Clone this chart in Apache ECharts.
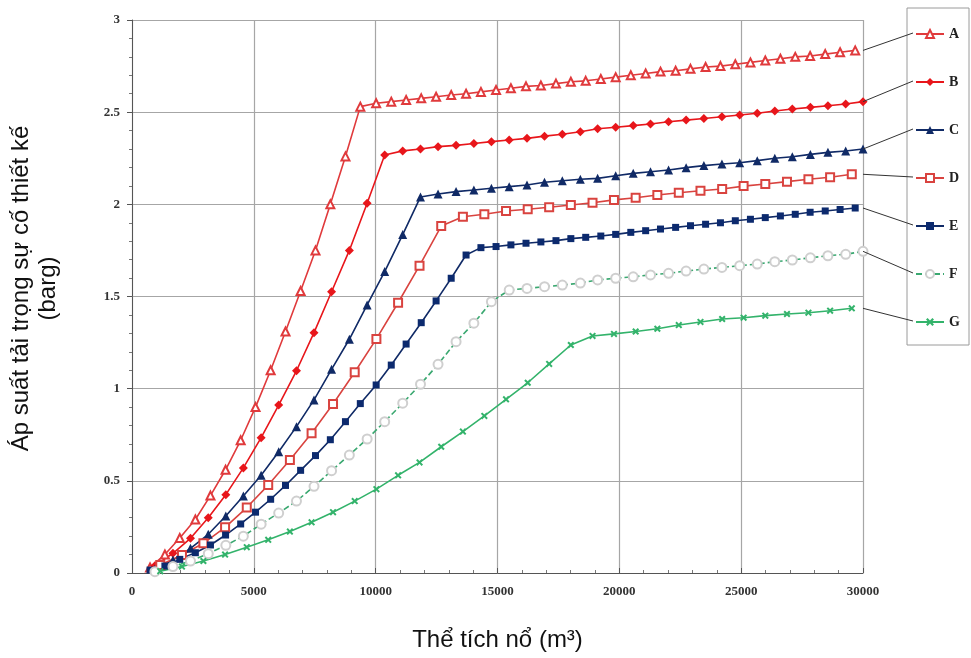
<!DOCTYPE html>
<html><head><meta charset="utf-8">
<script src="https://cdn.jsdelivr.net/npm/echarts@6/dist/echarts.min.js"></script>
<style>html,body{margin:0;padding:0;background:#fff}#c{width:971px;height:658px}</style>
</head><body><div id="c"></div>
<script>
// ---- data ----
const seriesNames = ['A', 'B', 'C', 'D', 'E', 'F', 'G'];

// x values shared by A and E
const xAE = [740, 1350, 1960, 2600, 3220, 3840, 4460, 5070, 5690, 6300, 6920, 7530, 8140, 8760, 9370,
  10020, 10640, 11250, 11870, 12480, 13100, 13710, 14320, 14940, 15550, 16170, 16780, 17400, 18010,
  18620, 19240, 19850, 20470, 21080, 21690, 22310, 22920, 23540, 24150, 24760, 25380, 25990, 26610,
  27220, 27830, 28450, 29060, 29680];
const yA = [0.03, 0.10, 0.19, 0.29, 0.42, 0.56, 0.72, 0.90, 1.10, 1.31, 1.53, 1.75, 2.00, 2.26, 2.53,
  2.548, 2.557, 2.566, 2.575, 2.584, 2.593, 2.60, 2.61, 2.62, 2.63, 2.64, 2.645, 2.655, 2.665, 2.67,
  2.68, 2.69, 2.70, 2.71, 2.72, 2.725, 2.735, 2.745, 2.75, 2.76, 2.77, 2.78, 2.79, 2.80, 2.805, 2.815,
  2.825, 2.835];
const yE = [0.016, 0.038, 0.074, 0.11, 0.152, 0.206, 0.266, 0.33, 0.40, 0.475, 0.557, 0.637, 0.723,
  0.821, 0.919, 1.02, 1.128, 1.242, 1.358, 1.476, 1.599, 1.725,
  1.765, 1.771, 1.78, 1.789, 1.796, 1.803, 1.814, 1.821, 1.828, 1.837, 1.848, 1.857, 1.866, 1.875,
  1.884, 1.892, 1.90, 1.911, 1.919, 1.928, 1.937, 1.946, 1.957, 1.964, 1.972, 1.98];

// x values shared by B, C and F
const xBCF = [940, 1680, 2400, 3130, 3850, 4570, 5300, 6020, 6750, 7470, 8190, 8920, 9650, 10370,
  11110, 11840, 12560, 13300, 14030, 14750, 15480, 16210, 16930, 17660, 18400, 19110, 19850, 20570,
  21280, 22020, 22740, 23470, 24210, 24940, 25660, 26380, 27100, 27840, 28560, 29290, 30000];
const yB = [0.04, 0.107, 0.188, 0.30, 0.425, 0.57, 0.734, 0.911, 1.097, 1.304, 1.526, 1.75, 2.006, 2.268,
  2.29, 2.30, 2.313, 2.32, 2.33, 2.34, 2.349, 2.358, 2.37, 2.38, 2.394, 2.41, 2.418, 2.427, 2.436,
  2.448, 2.457, 2.466, 2.475, 2.485, 2.494, 2.506, 2.517, 2.526, 2.535, 2.544, 2.557];
const yC = [0.02, 0.07, 0.134, 0.21, 0.309, 0.418, 0.53, 0.658, 0.794, 0.939, 1.105, 1.268, 1.454, 1.635,
  1.836, 2.04, 2.056, 2.069, 2.078, 2.087, 2.096, 2.105, 2.12, 2.128, 2.136, 2.141, 2.155, 2.168,
  2.177, 2.186, 2.199, 2.21, 2.219, 2.226, 2.237, 2.25, 2.258, 2.271, 2.282, 2.289, 2.30];
const yF = [0.007, 0.035, 0.065, 0.105, 0.15, 0.20, 0.265, 0.325, 0.39, 0.47, 0.555, 0.64, 0.727, 0.821,
  0.921, 1.024, 1.132, 1.255, 1.355, 1.472, 1.535, 1.544, 1.553, 1.562, 1.573, 1.59, 1.599, 1.607,
  1.617, 1.626, 1.638, 1.649, 1.658, 1.667, 1.676, 1.689, 1.698, 1.71, 1.721, 1.729, 1.745];

// x values shared by D and G
const xDG = [1160, 2050, 2930, 3820, 4710, 5590, 6480, 7370, 8250, 9140, 10030, 10920, 11800, 12690,
  13580, 14460, 15350, 16240, 17120, 18010, 18900, 19780, 20670, 21560, 22440, 23330, 24220, 25100,
  25990, 26880, 27760, 28650, 29540];
const yD = [0.043, 0.098, 0.161, 0.248, 0.355, 0.477, 0.613, 0.758, 0.917, 1.089, 1.27, 1.466, 1.667,
  1.882, 1.933, 1.946, 1.964, 1.973, 1.984, 1.996, 2.009, 2.024, 2.036, 2.051, 2.063, 2.074, 2.083,
  2.099, 2.11, 2.123, 2.136, 2.147, 2.163];
const yG = [0.01, 0.035, 0.065, 0.10, 0.14, 0.18, 0.225, 0.275, 0.33, 0.39, 0.455, 0.53, 0.60, 0.685,
  0.767, 0.852, 0.942, 1.032, 1.134, 1.237, 1.286, 1.297, 1.31, 1.325, 1.345, 1.362, 1.378, 1.385,
  1.396, 1.405, 1.412, 1.423, 1.436];

const xTicks = [0, 5000, 10000, 15000, 20000, 25000, 30000];
const yTicks = [0, 0.5, 1, 1.5, 2, 2.5, 3];

const xTitle = 'Thể tích nổ (m³)';
const yTitle = 'Áp suất tải trọng sự cố thiết kế\n(barg)';

// ---- chart ----
const zip = (xs, ys) => xs.map((x, i) => [x, ys[i]]);
const X_ICON = 'path://M2,0 L5,3 L8,0 L10,2 L7,5 L10,8 L8,10 L5,7 L2,10 L0,8 L3,5 L0,2 Z';

const styles = {
  A: { line: '#e03a3c', color: '#e03a3c', symbol: 'emptyTriangle', size: 8, type: 'solid' },
  B: { line: '#e8161b', color: '#e8161b', symbol: 'diamond', size: 9, type: 'solid' },
  C: { line: '#102a66', color: '#102a66', symbol: 'triangle', size: 9, type: 'solid' },
  D: { line: '#d9433f', color: '#d9433f', symbol: 'emptyRect', size: 8, type: 'solid' },
  E: { line: '#102a66', color: '#0c2a6e', symbol: 'rect', size: 7, type: 'solid' },
  F: { line: '#3aa870', color: '#cfcfcf', symbol: 'emptyCircle', size: 9, type: [6, 3] },
  G: { line: '#33b36b', color: '#33b36b', symbol: X_ICON, size: 7, type: 'solid' }
};
const dataMap = {
  A: zip(xAE, yA), B: zip(xBCF, yB), C: zip(xBCF, yC), D: zip(xDG, yD),
  E: zip(xAE, yE), F: zip(xBCF, yF), G: zip(xDG, yG)
};

const chart = echarts.init(document.getElementById('c'), null, { renderer: 'canvas' });

const tickFont = { fontFamily: 'Liberation Serif', fontWeight: 'bold', fontSize: 13, color: '#333' };
const nameFont = { fontFamily: 'Liberation Sans', fontSize: 24, color: '#111' };

// legend layout: each entry occupies ~14px of text height, spaced 48px apart
const LEG_LEFT = 915, LEG_TOP = 27, LEG_ICON_H = 10, LEG_ROW_H = 14, LEG_GAP = 34;

chart.setOption({
  animation: false,
  backgroundColor: '#fff',
  grid: { left: 130, right: 108, top: 20, bottom: 85 },
  xAxis: {
    type: 'value', min: xTicks[0], max: xTicks[xTicks.length - 1], interval: xTicks[1] - xTicks[0],
    axisLine: { lineStyle: { color: '#555', width: 1 } },
    axisTick: { inside: true, length: 5, lineStyle: { color: '#555' } },
    minorTick: { show: true, splitNumber: 5, length: 3, lineStyle: { color: '#777' } },
    axisLabel: Object.assign({ margin: 12, formatter: v => String(v) }, tickFont),
    splitLine: { show: true, lineStyle: { color: '#a6a6a6', width: 1.2 } },
    name: xTitle, nameLocation: 'middle', nameGap: 55, nameTextStyle: nameFont
  },
  yAxis: {
    type: 'value', min: yTicks[0], max: yTicks[yTicks.length - 1], interval: yTicks[1] - yTicks[0],
    axisLine: { show: true, lineStyle: { color: '#555', width: 1 } },
    axisTick: { show: true, length: 5, lineStyle: { color: '#555' } },
    minorTick: { show: true, splitNumber: 5, length: 3, lineStyle: { color: '#777' } },
    axisLabel: Object.assign({ margin: 12, formatter: v => String(v) }, tickFont),
    splitLine: { show: true, lineStyle: { color: '#a6a6a6', width: 1.2 } },
    name: yTitle, nameLocation: 'middle', nameGap: 70,
    nameTextStyle: Object.assign({ lineHeight: 27, align: 'center', padding: [0, 0, 0, 16] }, nameFont)
  },
  legend: {
    orient: 'vertical', left: LEG_LEFT, top: LEG_TOP, padding: 0,
    itemWidth: 28, itemHeight: LEG_ICON_H, itemGap: LEG_GAP,
    data: seriesNames,
    textStyle: { fontFamily: 'Liberation Serif', fontWeight: 'bold', fontSize: 14, color: '#222' }
  },
  series: seriesNames.map(n => ({
    name: n, type: 'line', data: dataMap[n],
    symbol: styles[n].symbol, symbolSize: styles[n].size, showAllSymbol: true,
    lineStyle: { color: styles[n].line, width: 1.6, type: styles[n].type },
    itemStyle: { color: styles[n].color, borderWidth: 1.3 },
    emphasis: { disabled: true }
  }))
});

// leader lines from each curve's end to its legend entry, plus the legend box
const graphics = [{
  type: 'rect', shape: { x: 907, y: 8, width: 62, height: 337 },
  style: { fill: 'none', stroke: '#9a9a9a', lineWidth: 1 }, z: 0
}];
seriesNames.forEach((n, i) => {
  const ys = dataMap[n];
  const last = ys[ys.length - 1][1];
  const p = chart.convertToPixel({ gridIndex: 0 }, [xTicks[xTicks.length - 1], last]);
  const ey = LEG_TOP + 6 + i * (LEG_ROW_H + LEG_GAP);
  graphics.push({
    type: 'line', shape: { x1: p[0], y1: p[1], x2: LEG_LEFT - 2, y2: ey },
    style: { stroke: '#333', lineWidth: 1 }, z: 5
  });
});
chart.setOption({ graphic: graphics });
</script>
</body></html>
